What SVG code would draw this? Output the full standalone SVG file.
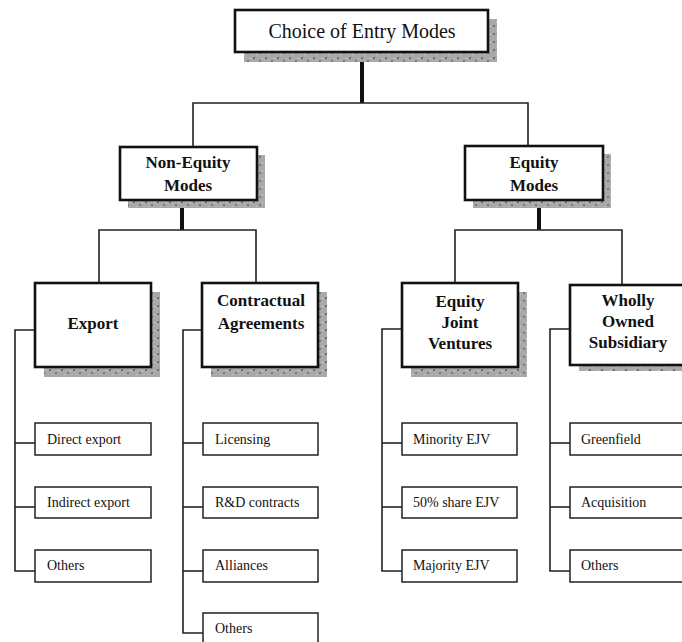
<svg xmlns="http://www.w3.org/2000/svg" width="682" height="642" viewBox="0 0 682 642">
<defs>
<pattern id="stip" width="12" height="8" patternUnits="userSpaceOnUse">
<rect width="12" height="8" fill="#a9a9a9"/>
<rect x="1" y="1" width="2" height="2" fill="#6e6e6e"/>
<rect x="7" y="4" width="2" height="2" fill="#7a7a7a"/>
<rect x="4" y="6" width="1" height="1" fill="#d0d0d0"/>
<rect x="10" y="2" width="1" height="1" fill="#d4d4d4"/>
</pattern>
<style>
.shadow{fill:url(#stip);}
.big{fill:#fff;stroke:#111;stroke-width:2.6;}
.leaf{fill:#fff;stroke:#222;stroke-width:1.5;}
.title{font-family:"Liberation Serif","Times New Roman",serif;font-size:20px;fill:#111;text-anchor:middle;}
.bold{font-family:"Liberation Serif","Times New Roman",serif;font-size:17px;font-weight:bold;fill:#111;text-anchor:middle;}
.lt{font-family:"Liberation Serif","Times New Roman",serif;font-size:14px;fill:#111;}
.thick{stroke:#111;stroke-width:4;fill:none;}
.thin{stroke:#222;stroke-width:1.6;fill:none;}
</style>
</defs>
<rect width="682" height="642" fill="#fff"/>
<g id="connectors">
<line class="thick" x1="362" y1="52" x2="362" y2="103"/>
<polyline class="thin" points="193,147 193,103 528,103 528,146"/>
<line class="thick" x1="182" y1="200" x2="182" y2="230"/>
<polyline class="thin" points="99,283 99,230 256,230 256,283"/>
<line class="thick" x1="539" y1="200" x2="539" y2="230"/>
<polyline class="thin" points="455,283 455,230 622,230 622,285"/>
<polyline class="thin" points="35,330 15,330 15,571 35,571"/>
<line class="thin" x1="15" y1="443" x2="35" y2="443"/>
<line class="thin" x1="15" y1="507" x2="35" y2="507"/>
<polyline class="thin" points="203,330 183,330 183,633 203,633"/>
<line class="thin" x1="183" y1="443" x2="203" y2="443"/>
<line class="thin" x1="183" y1="507" x2="203" y2="507"/>
<line class="thin" x1="183" y1="571" x2="203" y2="571"/>
<polyline class="thin" points="402,329 382,329 382,571 402,571"/>
<line class="thin" x1="382" y1="443" x2="402" y2="443"/>
<line class="thin" x1="382" y1="507" x2="402" y2="507"/>
<polyline class="thin" points="570,329 550,329 550,571 570,571"/>
<line class="thin" x1="550" y1="443" x2="570" y2="443"/>
<line class="thin" x1="550" y1="507" x2="570" y2="507"/>
</g>
<g id="root">
<rect class="shadow" x="244" y="19" width="253" height="43"/>
<rect class="big" x="235" y="10" width="253" height="42"/>
<text class="title" x="362" y="38">Choice of Entry Modes</text>
</g>
<g id="nonequity">
<rect class="shadow" x="128" y="155" width="137" height="53"/>
<rect class="big" x="120" y="147" width="137" height="53"/>
<text class="bold" x="188" y="168">Non-Equity</text>
<text class="bold" x="188" y="191">Modes</text>
</g>
<g id="equity">
<rect class="shadow" x="473" y="154" width="138" height="54"/>
<rect class="big" x="465" y="146" width="138" height="54"/>
<text class="bold" x="534" y="168">Equity</text>
<text class="bold" x="534" y="191">Modes</text>
</g>
<g id="export">
<rect class="shadow" x="44" y="292" width="116" height="85"/>
<rect class="big" x="35" y="283" width="116" height="84"/>
<text class="bold" x="93" y="329">Export</text>
</g>
<g id="contractual">
<rect class="shadow" x="211" y="292" width="116" height="85"/>
<rect class="big" x="202" y="283" width="116" height="84"/>
<text class="bold" x="261" y="306">Contractual</text>
<text class="bold" x="261" y="329">Agreements</text>
</g>
<g id="ejv">
<rect class="shadow" x="411" y="292" width="116" height="85"/>
<rect class="big" x="402" y="283" width="116" height="84"/>
<text class="bold" x="460" y="307">Equity</text>
<text class="bold" x="460" y="328">Joint</text>
<text class="bold" x="460" y="349">Ventures</text>
</g>
<g id="wos">
<rect class="shadow" x="579" y="293" width="116" height="78"/>
<rect class="big" x="570" y="285" width="118" height="80"/>
<text class="bold" x="628" y="306">Wholly</text>
<text class="bold" x="628" y="327">Owned</text>
<text class="bold" x="628" y="348">Subsidiary</text>
</g>
<g id="direct-export"><rect class="leaf" x="35" y="423" width="116" height="32"/><text class="lt" x="47" y="444">Direct export</text></g>
<g id="indirect-export"><rect class="leaf" x="35" y="487" width="116" height="31"/><text class="lt" x="47" y="507">Indirect export</text></g>
<g id="export-others"><rect class="leaf" x="35" y="550" width="116" height="32"/><text class="lt" x="47" y="570">Others</text></g>
<g id="licensing"><rect class="leaf" x="203" y="423" width="115" height="32"/><text class="lt" x="215" y="444">Licensing</text></g>
<g id="rd-contracts"><rect class="leaf" x="203" y="487" width="115" height="31"/><text class="lt" x="215" y="507">R&amp;D contracts</text></g>
<g id="alliances"><rect class="leaf" x="203" y="550" width="115" height="32"/><text class="lt" x="215" y="570">Alliances</text></g>
<g id="contract-others"><rect class="leaf" x="203" y="613" width="115" height="32"/><text class="lt" x="215" y="633">Others</text></g>
<g id="minority-ejv"><rect class="leaf" x="402" y="423" width="115" height="32"/><text class="lt" x="413" y="444">Minority EJV</text></g>
<g id="share-ejv"><rect class="leaf" x="402" y="487" width="115" height="31"/><text class="lt" x="413" y="507">50% share EJV</text></g>
<g id="majority-ejv"><rect class="leaf" x="402" y="550" width="115" height="32"/><text class="lt" x="413" y="570">Majority EJV</text></g>
<g id="greenfield"><rect class="leaf" x="570" y="423" width="118" height="32"/><text class="lt" x="581" y="444">Greenfield</text></g>
<g id="acquisition"><rect class="leaf" x="570" y="487" width="118" height="31"/><text class="lt" x="581" y="507">Acquisition</text></g>
<g id="wos-others"><rect class="leaf" x="570" y="550" width="118" height="32"/><text class="lt" x="581" y="570">Others</text></g>
</svg>
